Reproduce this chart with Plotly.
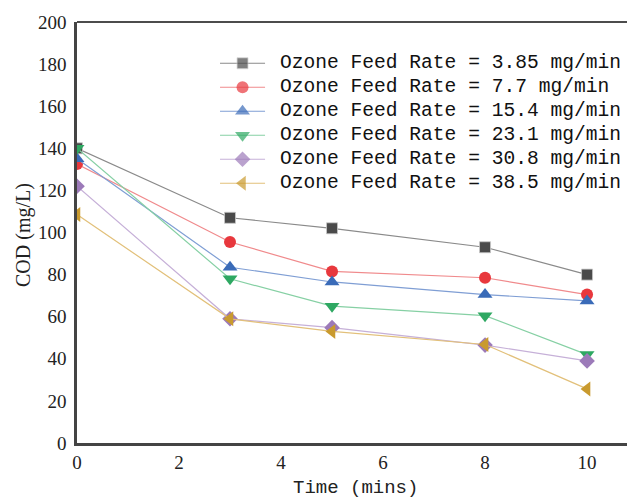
import plotly.graph_objects as go

time_min = [0, 3, 5, 8, 10]
labels = [
    "Ozone Feed Rate = 3.85 mg/min",
    "Ozone Feed Rate = 7.7 mg/min",
    "Ozone Feed Rate = 15.4 mg/min",
    "Ozone Feed Rate = 23.1 mg/min",
    "Ozone Feed Rate = 30.8 mg/min",
    "Ozone Feed Rate = 38.5 mg/min",
]
cod_385 = [140, 107, 102, 93, 80]
cod_77 = [132.5, 95.5, 81.5, 78.5, 70.5]
cod_154 = [135, 83.5, 76.5, 70.5, 67.5]
cod_231 = [140, 78, 65, 60.5, 42]
cod_308 = [122, 59, 54.8, 46.5, 39]
cod_385b = [108.5, 59, 53, 46.8, 25.7]
series = [cod_385, cod_77, cod_154, cod_231, cod_308, cod_385b]
x_ticks = [0, 2, 4, 6, 8, 10]
y_ticks = list(range(0, 201, 20))

marker_colors = ["#4a4a4a", "#e8383d", "#3a6bb8", "#2ea862", "#9c7ab9", "#c99a2e"]
line_colors = ["#8a8a8a", "#f08a8c", "#7f9ed4", "#86d0a4", "#c6b0d8", "#e2c07a"]
symbols = ["square", "circle", "triangle-up", "triangle-down", "diamond", "triangle-left"]
sizes = [11, 12, 13, 13, 12, 13]

fig = go.Figure()
for lab, ys, mc, lc, sym, sz in zip(labels, series, marker_colors, line_colors, symbols, sizes):
    fig.add_trace(go.Scatter(
        x=time_min, y=ys, name=lab, mode="lines+markers", showlegend=False,
        line=dict(color=lc, width=1.2),
        marker=dict(symbol=sym, size=sz, color=mc,
                    line=dict(color="rgba(200,200,200,0.8)", width=1 if sym == "square" else 0)),
    ))

# Custom legend drawn on an overlay axis spanning the plot area (0..1 in both directions)
leg_x0, leg_x1, leg_text_x = 0.2563, 0.337, 0.3602
leg_top, leg_step = 0.902, 0.057
annotations = []
for i, (lab, mc, lc, sym, sz) in enumerate(zip(labels, marker_colors, line_colors, symbols, sizes)):
    yy = leg_top - i * leg_step
    fig.add_trace(go.Scatter(
        x=[leg_x0, (leg_x0 + leg_x1) / 2, leg_x1], y=[yy, yy, yy],
        xaxis="x2", yaxis="y2", mode="lines+markers", showlegend=False, hoverinfo="skip",
        line=dict(color=lc, width=1.2),
        marker=dict(symbol=sym, size=[0, sz, 0], color=mc,
                    line=dict(color="rgba(200,200,200,0.8)", width=1 if sym == "square" else 0)),
    ))
    annotations.append(dict(
        text=lab, xref="paper", yref="paper", x=leg_text_x, y=yy,
        xanchor="left", yanchor="middle", showarrow=False,
        font=dict(family="Liberation Mono", size=19.6, color="#111"),
    ))

annotations.append(dict(
    text="Time (mins)", xref="paper", yref="paper", x=(355 - 77) / 558, y=-(488 - 443) / 421,
    xanchor="center", yanchor="middle", showarrow=False,
    font=dict(family="Liberation Mono", size=19, color="#222"),
))
annotations.append(dict(
    text="COD (mg/L)", xref="paper", yref="paper", x=-(77 - 23) / 558, y=(443 - 235) / 421,
    xanchor="center", yanchor="middle", showarrow=False, textangle=-90,
    font=dict(family="Liberation Serif", size=20, color="#222"),
))

# page body has an 8px margin: figure spans 8..635 x 8..498
fig.update_layout(
    width=627, height=490,
    margin=dict(l=69, r=0, t=14, b=55),
    paper_bgcolor="white", plot_bgcolor="white",
    showlegend=False,
    annotations=annotations,
    xaxis=dict(range=[0, 10.94], tickvals=x_ticks, showgrid=False, zeroline=False,
               showline=True, linecolor="#444", linewidth=2.5, ticks="", automargin=False,
               tickfont=dict(family="Liberation Serif", size=19, color="#222")),
    yaxis=dict(range=[0, 200], tickvals=y_ticks, showgrid=False, zeroline=False,
               showline=True, linecolor="#444", linewidth=2.5, ticks="", automargin=False,
               ticklabelstandoff=4,
               tickfont=dict(family="Liberation Serif", size=19, color="#222")),
    xaxis2=dict(overlaying="x", range=[0, 1], visible=False, fixedrange=True),
    yaxis2=dict(overlaying="y", range=[0, 1], visible=False, fixedrange=True),
)
fig.add_shape(type="line", xref="paper", yref="paper", x0=0, x1=1, y0=1, y1=1,
              line=dict(color="#111", width=1.5))

fig.write_html("out.html")
